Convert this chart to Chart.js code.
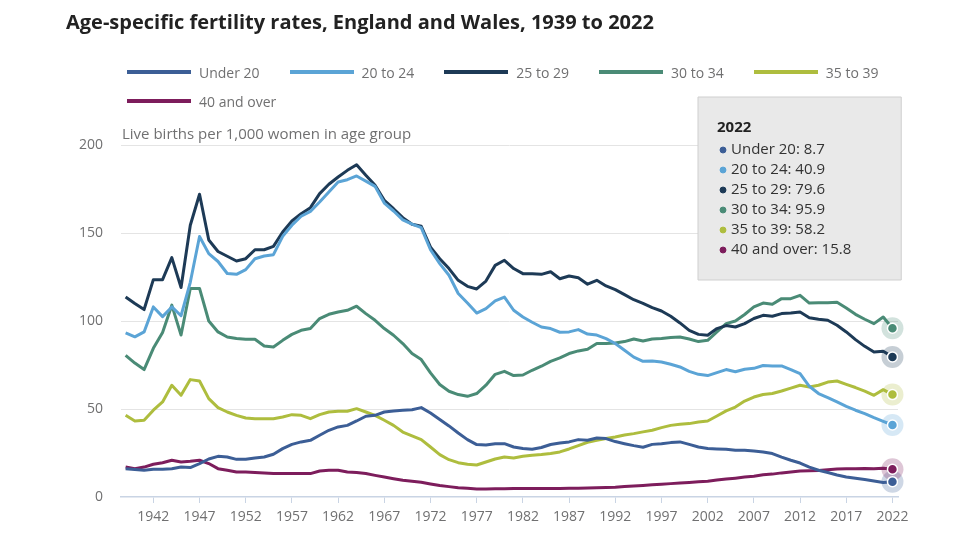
<!DOCTYPE html>
<html>
<head>
<meta charset="utf-8">
<script src="https://cdn.jsdelivr.net/npm/chart.js@4/dist/chart.umd.min.js"></script>
<style>
body { margin: 0; background: #fff; font-family: "Open Sans", sans-serif; }
#wrap { position: relative; width: 977px; height: 550px; }
#title { position: absolute; left: 66px; top: 8px; font-size: 20px; line-height: 28px; font-weight: 700; color: #222; }
#legend { position: absolute; left: 127px; top: 62px; width: 800px; display: flex; flex-wrap: wrap; column-gap: 30px; row-gap: 9px; }
.item { display: flex; align-items: center; height: 20px; font-size: 14px; color: #707071; }
.sw { width: 64px; height: 4px; margin-right: 8px; }
#ylab { position: absolute; left: 122px; top: 123px; font-size: 15px; line-height: 21px; color: #707071; }
canvas { position: absolute; left: 0; top: 0; }
</style>
</head>
<body>
<div id="wrap">
  <canvas id="chart" width="977" height="550"></canvas>
  <div id="title">Age-specific fertility rates, England and Wales, 1939 to 2022</div>
  <div id="legend"></div>
  <div id="ylab">Live births per 1,000 women in age group</div>
</div>
<script>
const years = [1939, 1940, 1941, 1942, 1943, 1944, 1945, 1946, 1947, 1948,
  1949, 1950, 1951, 1952, 1953, 1954, 1955, 1956, 1957, 1958,
  1959, 1960, 1961, 1962, 1963, 1964, 1965, 1966, 1967, 1968,
  1969, 1970, 1971, 1972, 1973, 1974, 1975, 1976, 1977, 1978,
  1979, 1980, 1981, 1982, 1983, 1984, 1985, 1986, 1987, 1988,
  1989, 1990, 1991, 1992, 1993, 1994, 1995, 1996, 1997, 1998,
  1999, 2000, 2001, 2002, 2003, 2004, 2005, 2006, 2007, 2008,
  2009, 2010, 2011, 2012, 2013, 2014, 2015, 2016, 2017, 2018,
  2019, 2020, 2021, 2022];
const tickYears = [1942, 1947, 1952, 1957, 1962, 1967, 1972, 1977, 1982, 1987,
  1992, 1997, 2002, 2007, 2012, 2017, 2022];

// rows: 1939, 1949, 1959, ... (10 per row)
const under20 = [16.1, 15.6, 15.2, 15.7, 15.7, 16.1, 17.0, 16.7, 19.0, 21.6,
  23.1, 22.7, 21.4, 21.4, 22.2, 22.7, 24.3, 27.5, 29.9, 31.3,
  32.2, 35.1, 37.9, 39.8, 40.7, 43.2, 45.9, 46.4, 48.3, 48.9,
  49.3, 49.6, 50.8, 47.7, 44.0, 40.4, 36.4, 32.6, 29.8, 29.6,
  30.3, 30.3, 28.4, 27.5, 27.1, 28.1, 29.8, 30.7, 31.3, 32.6,
  32.2, 33.5, 33.2, 31.5, 30.3, 29.2, 28.3, 29.9, 30.3, 30.9,
  31.3, 29.9, 28.4, 27.5, 27.3, 27.1, 26.5, 26.5, 26.1, 25.6,
  24.7, 22.7, 20.9, 19.3, 17.0, 15.2, 13.9, 12.5, 11.4, 10.6,
  9.9, 9.1, 8.2, 8.7];
const age20to24 = [93.2, 91.0, 93.8, 108.0, 102.5, 108.0, 103.0, 122.0, 148.0, 138.3,
  133.8, 127.0, 126.5, 129.2, 135.4, 136.9, 137.7, 148.1, 154.4, 159.5,
  162.3, 167.6, 173.3, 179.0, 180.3, 182.4, 179.5, 176.5, 167.0, 162.5,
  157.5, 155.0, 153.0, 140.5, 132.6, 126.0, 115.6, 110.2, 104.5, 107.0,
  111.4, 113.6, 106.1, 102.3, 99.3, 96.6, 95.7, 93.6, 93.8, 95.1,
  92.6, 92.0, 90.0, 87.2, 83.4, 79.5, 77.1, 77.3, 76.7, 75.4,
  73.9, 71.4, 69.7, 69.0, 70.7, 72.4, 71.2, 72.6, 73.1, 74.7,
  74.5, 74.5, 72.4, 70.1, 62.9, 58.8, 56.5, 54.0, 51.5, 49.3,
  47.4, 45.1, 43.0, 40.9];
const age25to29 = [113.6, 109.9, 106.5, 123.5, 123.5, 136.0, 119.0, 154.4, 172.0, 146.0,
  139.5, 136.8, 134.1, 135.4, 140.5, 140.5, 142.4, 150.6, 156.8, 161.0,
  164.4, 172.4, 177.7, 181.8, 185.6, 188.8, 182.8, 177.1, 168.6, 163.8,
  158.7, 155.0, 153.8, 142.0, 135.4, 129.8, 123.1, 119.7, 118.2, 122.7,
  131.6, 134.5, 129.8, 126.9, 126.9, 126.5, 128.0, 124.0, 125.6, 124.6,
  120.9, 123.1, 119.9, 117.8, 115.0, 112.1, 110.0, 107.6, 105.7, 102.7,
  98.9, 94.7, 92.4, 91.9, 95.7, 97.4, 96.6, 98.5, 101.4, 103.2,
  102.7, 104.2, 104.5, 105.1, 101.9, 101.0, 100.4, 97.6, 93.8, 89.4,
  85.6, 82.4, 82.8, 79.6];
const age30to34 = [80.5, 76.1, 72.4, 84.5, 93.5, 109.0, 92.0, 118.5, 118.5, 100.0,
  93.8, 90.9, 90.0, 89.6, 89.6, 85.8, 85.2, 89.0, 92.4, 94.7,
  95.7, 101.4, 103.8, 105.1, 106.1, 108.4, 104.2, 100.4, 95.7, 91.9,
  87.2, 81.5, 78.1, 70.5, 63.9, 60.1, 58.2, 57.2, 58.8, 63.5,
  69.7, 71.4, 69.0, 69.3, 72.0, 74.3, 77.1, 79.0, 81.5, 83.0,
  83.9, 87.2, 87.2, 87.5, 88.3, 89.8, 88.6, 89.8, 90.0, 90.6,
  90.9, 89.8, 88.3, 89.0, 93.8, 98.5, 100.0, 103.7, 108.0, 110.2,
  109.5, 112.7, 112.7, 114.6, 110.2, 110.4, 110.4, 110.6, 107.4, 103.8,
  101.0, 98.5, 102.3, 95.9];
const age35to39 = [46.4, 43.2, 43.6, 49.3, 54.0, 63.5, 57.8, 66.7, 65.9, 55.9,
  50.8, 48.3, 46.4, 44.9, 44.5, 44.5, 44.5, 45.5, 46.8, 46.4,
  44.5, 46.8, 48.3, 48.7, 48.7, 50.2, 48.3, 46.4, 43.6, 40.7,
  36.9, 34.7, 32.6, 28.4, 24.1, 21.2, 19.5, 18.6, 18.2, 19.9,
  21.6, 22.7, 22.2, 23.1, 23.7, 24.1, 24.7, 25.6, 27.3, 29.2,
  31.1, 32.2, 33.2, 34.1, 35.2, 36.0, 37.0, 37.9, 39.4, 40.7,
  41.3, 41.7, 42.6, 43.2, 46.0, 48.9, 51.1, 54.5, 56.8, 58.2,
  58.8, 60.2, 61.9, 63.5, 62.5, 63.5, 65.3, 65.9, 64.0, 62.2,
  60.2, 57.8, 61.0, 58.2];
const age40plus = [17.0, 16.1, 17.0, 18.6, 19.5, 20.9, 19.9, 20.3, 20.9, 19.0,
  16.1, 15.2, 14.2, 14.2, 13.9, 13.7, 13.3, 13.3, 13.3, 13.3,
  13.3, 14.8, 15.2, 15.2, 14.2, 13.9, 13.3, 12.3, 11.4, 10.4,
  9.5, 8.9, 8.4, 7.4, 6.5, 5.9, 5.3, 5.0, 4.6, 4.6,
  4.7, 4.7, 4.8, 4.8, 4.8, 4.9, 4.9, 4.9, 5.0, 5.0,
  5.1, 5.2, 5.4, 5.6, 6.0, 6.3, 6.6, 7.0, 7.3, 7.6,
  7.9, 8.2, 8.6, 9.0, 9.6, 10.2, 10.7, 11.3, 11.8, 12.6,
  13.0, 13.7, 14.2, 14.8, 14.9, 15.1, 15.5, 15.9, 16.0, 16.1,
  16.2, 16.1, 16.4, 15.8];

const seriesNames = ['Under 20', '20 to 24', '25 to 29', '30 to 34', '35 to 39', '40 and over'];
const seriesColours = ['#3c5e96', '#5ba4d6', '#1d3a56', '#4a8b76', '#aebd3e', '#7d1d5c'];
const seriesValues = [under20, age20to24, age25to29, age30to34, age35to39, age40plus];

const last = years.length - 1;
const grey = '#707071';

// html legend
const legend = document.getElementById('legend');
seriesNames.forEach(function (name, i) {
  const item = document.createElement('div');
  item.className = 'item';
  item.innerHTML = '<span class="sw" style="background:' + seriesColours[i] + '"></span>' + name;
  legend.appendChild(item);
});

// faint halo round the 2022 points
const halo = {
  id: 'halo',
  beforeDatasetsDraw(chart) {
    const ctx = chart.ctx;
    chart.data.datasets.forEach(function (ds, i) {
      const pt = chart.getDatasetMeta(i).data[last];
      ctx.save();
      ctx.globalAlpha = 0.25;
      ctx.fillStyle = ds.borderColor;
      ctx.beginPath();
      ctx.arc(pt.x, pt.y, 11, 0, Math.PI * 2);
      ctx.fill();
      ctx.restore();
    });
  }
};

Chart.defaults.font.family = '"Open Sans", sans-serif';
Chart.defaults.font.size = 14;
Chart.Tooltip.positioners.fixedBox = function () {
  return { x: 698, y: 97 };
};

const datasets = seriesValues.map(function (vals, i) {
  return {
    label: seriesNames[i],
    data: years.map(function (yr, j) { return { x: yr, y: vals[j] }; }),
    borderColor: seriesColours[i],
    backgroundColor: seriesColours[i],
    borderWidth: 3,
    borderJoinStyle: 'round',
    tension: 0,
    pointRadius: function (c) { return c.dataIndex === last ? 5 : 0; },
    pointHoverRadius: function (c) { return c.dataIndex === last ? 5 : 0; },
    pointBackgroundColor: seriesColours[i],
    pointBorderColor: '#fff',
    pointBorderWidth: 1.5
  };
});

const chart = new Chart(document.getElementById('chart'), {
  type: 'line',
  data: { datasets: datasets },
  options: {
    responsive: false,
    animation: false,
    events: [],
    layout: { padding: { top: 145, right: 79, bottom: 0, left: 0 } },
    plugins: {
      legend: { display: false },
      tooltip: {
        enabled: true,
        position: 'fixedBox',
        xAlign: 'left',
        yAlign: 'top',
        caretSize: 0,
        caretPadding: 0,
        cornerRadius: 0,
        backgroundColor: '#e9e9e9',
        borderColor: '#cfcfcf',
        borderWidth: 1,
        titleColor: '#222',
        titleFont: { size: 15, weight: 'bold', lineHeight: 1.2 },
        titleMarginBottom: 4,
        bodyColor: '#333',
        bodyFont: { size: 15, lineHeight: 1.2 },
        bodySpacing: 2,
        padding: { top: 22, left: 19, right: 50, bottom: 21 },
        displayColors: true,
        usePointStyle: true,
        boxWidth: 12,
        boxHeight: 6,
        boxPadding: 0,
        callbacks: {
          title: function (items) { return String(items[0].parsed.x); },
          label: function (c) { return c.dataset.label + ': ' + c.parsed.y; },
          labelColor: function (c) { return { borderColor: c.dataset.borderColor, backgroundColor: c.dataset.borderColor }; },
          labelPointStyle: function () { return { pointStyle: 'circle', rotation: 0 }; }
        }
      }
    },
    scales: {
      x: {
        type: 'linear',
        min: 1938.5,
        max: 2022.6,
        afterBuildTicks: function (s) { s.ticks = tickYears.map(function (v) { return { value: v }; }); },
        afterFit: function (s) { s.height = 53; },
        grid: { drawOnChartArea: false, drawTicks: true, tickLength: 6, color: '#c9d4e4' },
        border: { color: '#c9d4e4', width: 1.5 },
        ticks: { padding: 6, color: grey, maxRotation: 0, autoSkip: false, callback: function (v) { return String(v); } }
      },
      y: {
        min: 0,
        max: 200,
        afterFit: function (s) { s.width = 121; },
        grid: { drawTicks: false, color: function (c) { return c.tick.value === 0 ? 'rgba(0,0,0,0)' : '#e4e4e4'; } },
        border: { display: false },
        ticks: { stepSize: 50, padding: 18, color: grey }
      }
    }
  },
  plugins: [halo]
});

chart.tooltip.setActiveElements(seriesValues.map(function (v, i) {
  return { datasetIndex: i, index: last };
}), { x: 0, y: 0 });
chart.update();
</script>
</body>
</html>
